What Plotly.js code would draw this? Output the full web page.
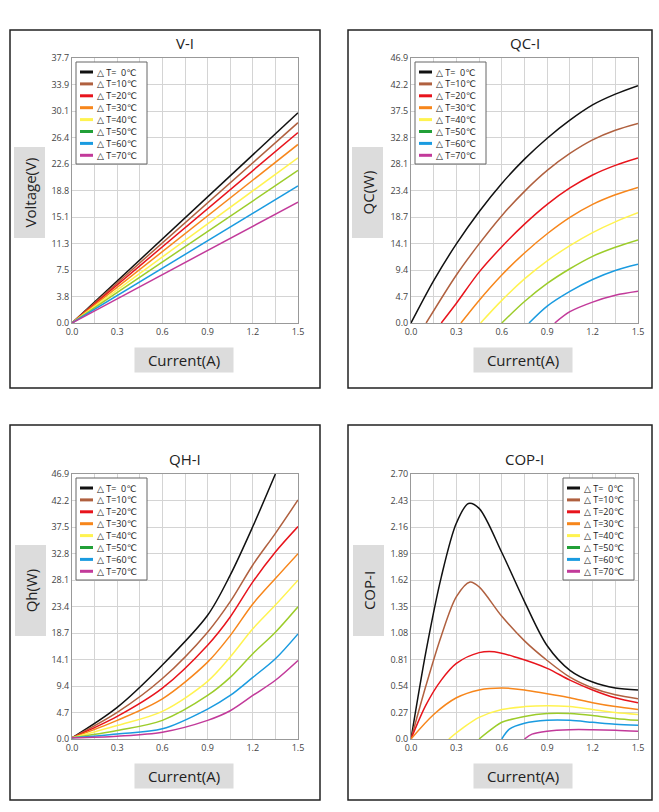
<!DOCTYPE html><html><head><meta charset="utf-8"><script src="https://cdn.plot.ly/plotly-3.0.1.min.js"></script></head><body style="margin:0"><div id="c" style="width:659px;height:812px"></div><script>
const names=['△ T=  0℃','△ T=10℃','△ T=20℃','△ T=30℃','△ T=40℃','△ T=50℃','△ T=60℃','△ T=70℃'];
const colors=['#111111','#b0603f','#e8141c','#f7861b','#fff350','#9ccc2a','#1a9be0','#c23a9a'];
const legColors=['#111111','#b0603f','#e8141c','#f7861b','#fff350','#22a038','#1a9be0','#c23a9a'];
// V-I
const viX=[[0,1.5],[0,1.5],[0,1.5],[0,1.5],[0,1.5],[0,1.5],[0,1.5],[0,1.5]];
const viY=[[0,29.9],[0,28.5],[0,27.1],[0,25.4],[0,23.5],[0,21.7],[0,19.5],[0,17.2]];
// QC-I
const qcX=[[0,0.15,0.3,0.45,0.6,0.75,0.9,1.05,1.2,1.35,1.5],[0.1,0.3,0.45,0.6,0.75,0.9,1.05,1.2,1.35,1.5],[0.2,0.3,0.45,0.6,0.75,0.9,1.05,1.2,1.35,1.5],[0.33,0.45,0.6,0.75,0.9,1.05,1.2,1.35,1.5],[0.46,0.6,0.75,0.9,1.05,1.2,1.35,1.5],[0.6,0.75,0.9,1.05,1.2,1.35,1.5],[0.78,0.9,1.05,1.2,1.35,1.5],[0.95,1.05,1.2,1.35,1.5]];
const qcY=[[0,7.5,14,19.7,24.7,29,32.7,35.9,38.6,40.5,42],[0,8.5,14,19,23.3,27,30,32.4,34.1,35.3],[0,3.5,9,13.5,17.5,21,23.9,26.2,27.9,29.2],[0,4,8.5,12.4,15.8,18.7,21,22.7,24],[0,4,7.8,11,13.7,16,17.9,19.5],[0,3.8,7,9.6,11.8,13.4,14.7],[0,3,5.6,7.7,9.3,10.4],[0,2,3.7,4.9,5.6]];
// QH-I
const qhXs=[0,0.3,0.6,0.9,1.05,1.2,1.35,1.5];
const qhY=[[0.2,5.6,13.1,21.9,29,37.6,46.9],[0.2,4.7,10.7,18.9,24.3,30.8,36.4,42.3],[0.2,4.0,9.0,16.6,21.6,27.8,33.1,37.6],[0.2,3.3,7.1,13.6,18.3,23.9,28.4,32.8],[0.2,2.4,4.9,10.2,14.5,19.5,23.7,28.1],[0.2,1.5,3.3,7.7,10.9,15.1,18.9,23.4],[0.2,0.9,1.8,5.3,7.7,10.9,14.2,18.6],[0.2,0.5,1.2,3.3,5.0,7.7,10.4,13.9]];
const qhX=qhY.map(ys=>qhXs.slice(0,ys.length));
// COP-I
const copX=[[0,0.1,0.2,0.3,0.38,0.45,0.6,0.75,0.9,1.05,1.2,1.35,1.5],[0,0.1,0.2,0.3,0.39,0.45,0.6,0.75,0.9,1.05,1.2,1.35,1.5],[0,0.1,0.2,0.3,0.45,0.55,0.7,0.9,1.05,1.2,1.35,1.5],[0,0.15,0.3,0.45,0.6,0.75,0.9,1.05,1.2,1.35,1.5],[0.25,0.35,0.45,0.6,0.75,0.9,1.05,1.2,1.35,1.5],[0.45,0.55,0.6,0.75,0.9,1.05,1.2,1.35,1.5],[0.6,0.65,0.75,0.9,1.05,1.2,1.35,1.5],[0.75,0.8,0.9,1.05,1.2,1.35,1.5]];
const copY=[[0,0.9,1.65,2.2,2.4,2.35,1.9,1.4,0.95,0.7,0.58,0.52,0.5],[0,0.55,1.05,1.45,1.6,1.55,1.25,1.0,0.8,0.63,0.52,0.45,0.41],[0,0.35,0.6,0.77,0.88,0.89,0.83,0.72,0.6,0.5,0.42,0.37],[0,0.25,0.42,0.5,0.52,0.5,0.46,0.42,0.37,0.33,0.3],[0,0.12,0.22,0.3,0.33,0.34,0.33,0.3,0.27,0.25],[0,0.12,0.17,0.23,0.26,0.26,0.24,0.21,0.19],[0,0.1,0.16,0.19,0.19,0.17,0.15,0.14],[0,0.05,0.08,0.095,0.095,0.09,0.08]];
const viTicks=['0.0','3.8','7.5','11.3','15.1','18.8','22.6','26.4','30.1','33.9','37.7'];
const qTicks=['0.0','4.7','9.4','14.1','18.7','23.4','28.1','32.8','37.5','42.2','46.9'];
const copTicks=['0.0','0.27','0.54','0.81','1.08','1.35','1.62','1.89','2.16','2.43','2.70'];
const xTickLabels=['0.0','','0.3','','0.6','','0.9','','1.2','','1.5'];

const panels=[
 {X:viX,Y:viY,ticks:viTicks,max:37.7,title:'V-I',yt:'Voltage(V)'},
 {X:qcX,Y:qcY,ticks:qTicks,max:46.9,title:'QC-I',yt:'QC(W)'},
 {X:qhX,Y:qhY,ticks:qTicks,max:46.9,title:'QH-I',yt:'Qh(W)'},
 {X:copX,Y:copY,ticks:copTicks,max:2.70,title:'COP-I',yt:'COP-I'}];
const W=659,H=812;
const fx=v=>v/W, fy=v=>1-v/H;
const px=[[72,298],[411,638],[72,298],[411,638]];
const py=[[58,323],[58,323],[474,739],[474,739]];
const boxes=[[10,30,320,388],[348,30,652,388],[10,425,320,800],[348,425,652,800]];
const legPos=[[76,62],[415,62],[76,478],[563,478]];
const traces=[],layout={width:W,height:H,margin:{l:0,r:0,t:0,b:0},paper_bgcolor:'#fff',plot_bgcolor:'#fff',showlegend:false,
 font:{family:'Open Sans, DejaVu Sans',color:'#333'},shapes:[],annotations:[]};
panels.forEach((p,k)=>{
 const s=k?String(k+1):'';
 p.X.forEach((xs,i)=>traces.push({x:xs,y:p.Y[i],xaxis:'x'+s,yaxis:'y'+s,type:'scatter',mode:'lines',cliponaxis:true,
   line:{color:colors[i],width:1.5,shape:'spline',smoothing:0.9},name:names[i]}));
 const tv=p.ticks.map((t,j)=>p.max*j/10);
 layout['xaxis'+s]={domain:[fx(px[k][0]),fx(px[k][1])],anchor:'y'+s,range:[0,1.5],tickvals:xTickLabels.map((t,j)=>0.15*j),ticktext:xTickLabels,
   showgrid:true,gridcolor:'#d4d4d4',zeroline:false,showline:true,linecolor:'#999',ticks:'',tickfont:{size:9,color:'#444'},mirror:true};
 layout['yaxis'+s]={domain:[fy(py[k][1]),fy(py[k][0])],anchor:'x'+s,range:[0,p.max],tickvals:tv,ticktext:p.ticks,
   showgrid:true,gridcolor:'#d4d4d4',zeroline:false,showline:true,linecolor:'#999',ticks:'',tickfont:{size:9,color:'#444'},mirror:true};
 const b=boxes[k];
 layout.shapes.push({type:'rect',xref:'paper',yref:'paper',x0:fx(b[0]),x1:fx(b[2]),y0:fy(b[3]),y1:fy(b[1]),line:{color:'#222',width:1.5}});
 // legend
 const [lx,ly]=legPos[k];
 layout.shapes.push({type:'rect',xref:'paper',yref:'paper',x0:fx(lx),x1:fx(lx+71),y0:fy(ly+102),y1:fy(ly),fillcolor:'#fff',line:{color:'#666',width:1},layer:'above'});
 names.forEach((n,i)=>{
   const yy=ly+10+i*11.9;
   layout.shapes.push({type:'line',xref:'paper',yref:'paper',x0:fx(lx+4),x1:fx(lx+17),y0:fy(yy),y1:fy(yy),line:{color:legColors[i],width:3},layer:'above'});
   layout.annotations.push({xref:'paper',yref:'paper',x:fx(lx+19),y:fy(yy),xanchor:'left',yanchor:'middle',text:n,showarrow:false,font:{size:9,color:'#222'}});
 });
 const cx=(px[k][0]+px[k][1])/2;
 layout.annotations.push({xref:'paper',yref:'paper',x:fx(cx),y:fy(py[k][0]-3),xanchor:'center',yanchor:'bottom',text:p.title,showarrow:false,font:{size:15,color:'#222'}});
 layout.annotations.push({xref:'paper',yref:'paper',x:fx(px[k][0]+112),y:fy(py[k][1]+37),xanchor:'center',yanchor:'middle',text:'Current(A)',showarrow:false,
   font:{size:15,color:'#222'},bgcolor:'#dcdcdc',width:96,height:22});
 layout.annotations.push({xref:'paper',yref:'paper',x:fx(b[0]+20),y:fy((py[k][0]+py[k][1])/2-(k>=2?16:-2)),xanchor:'center',yanchor:'middle',text:p.yt,textangle:-90,showarrow:false,
   font:{size:15,color:'#222'},bgcolor:'#dcdcdc',width:88,height:28});
});
Plotly.newPlot('c',traces,layout,{staticPlot:true});
</script></body></html>
